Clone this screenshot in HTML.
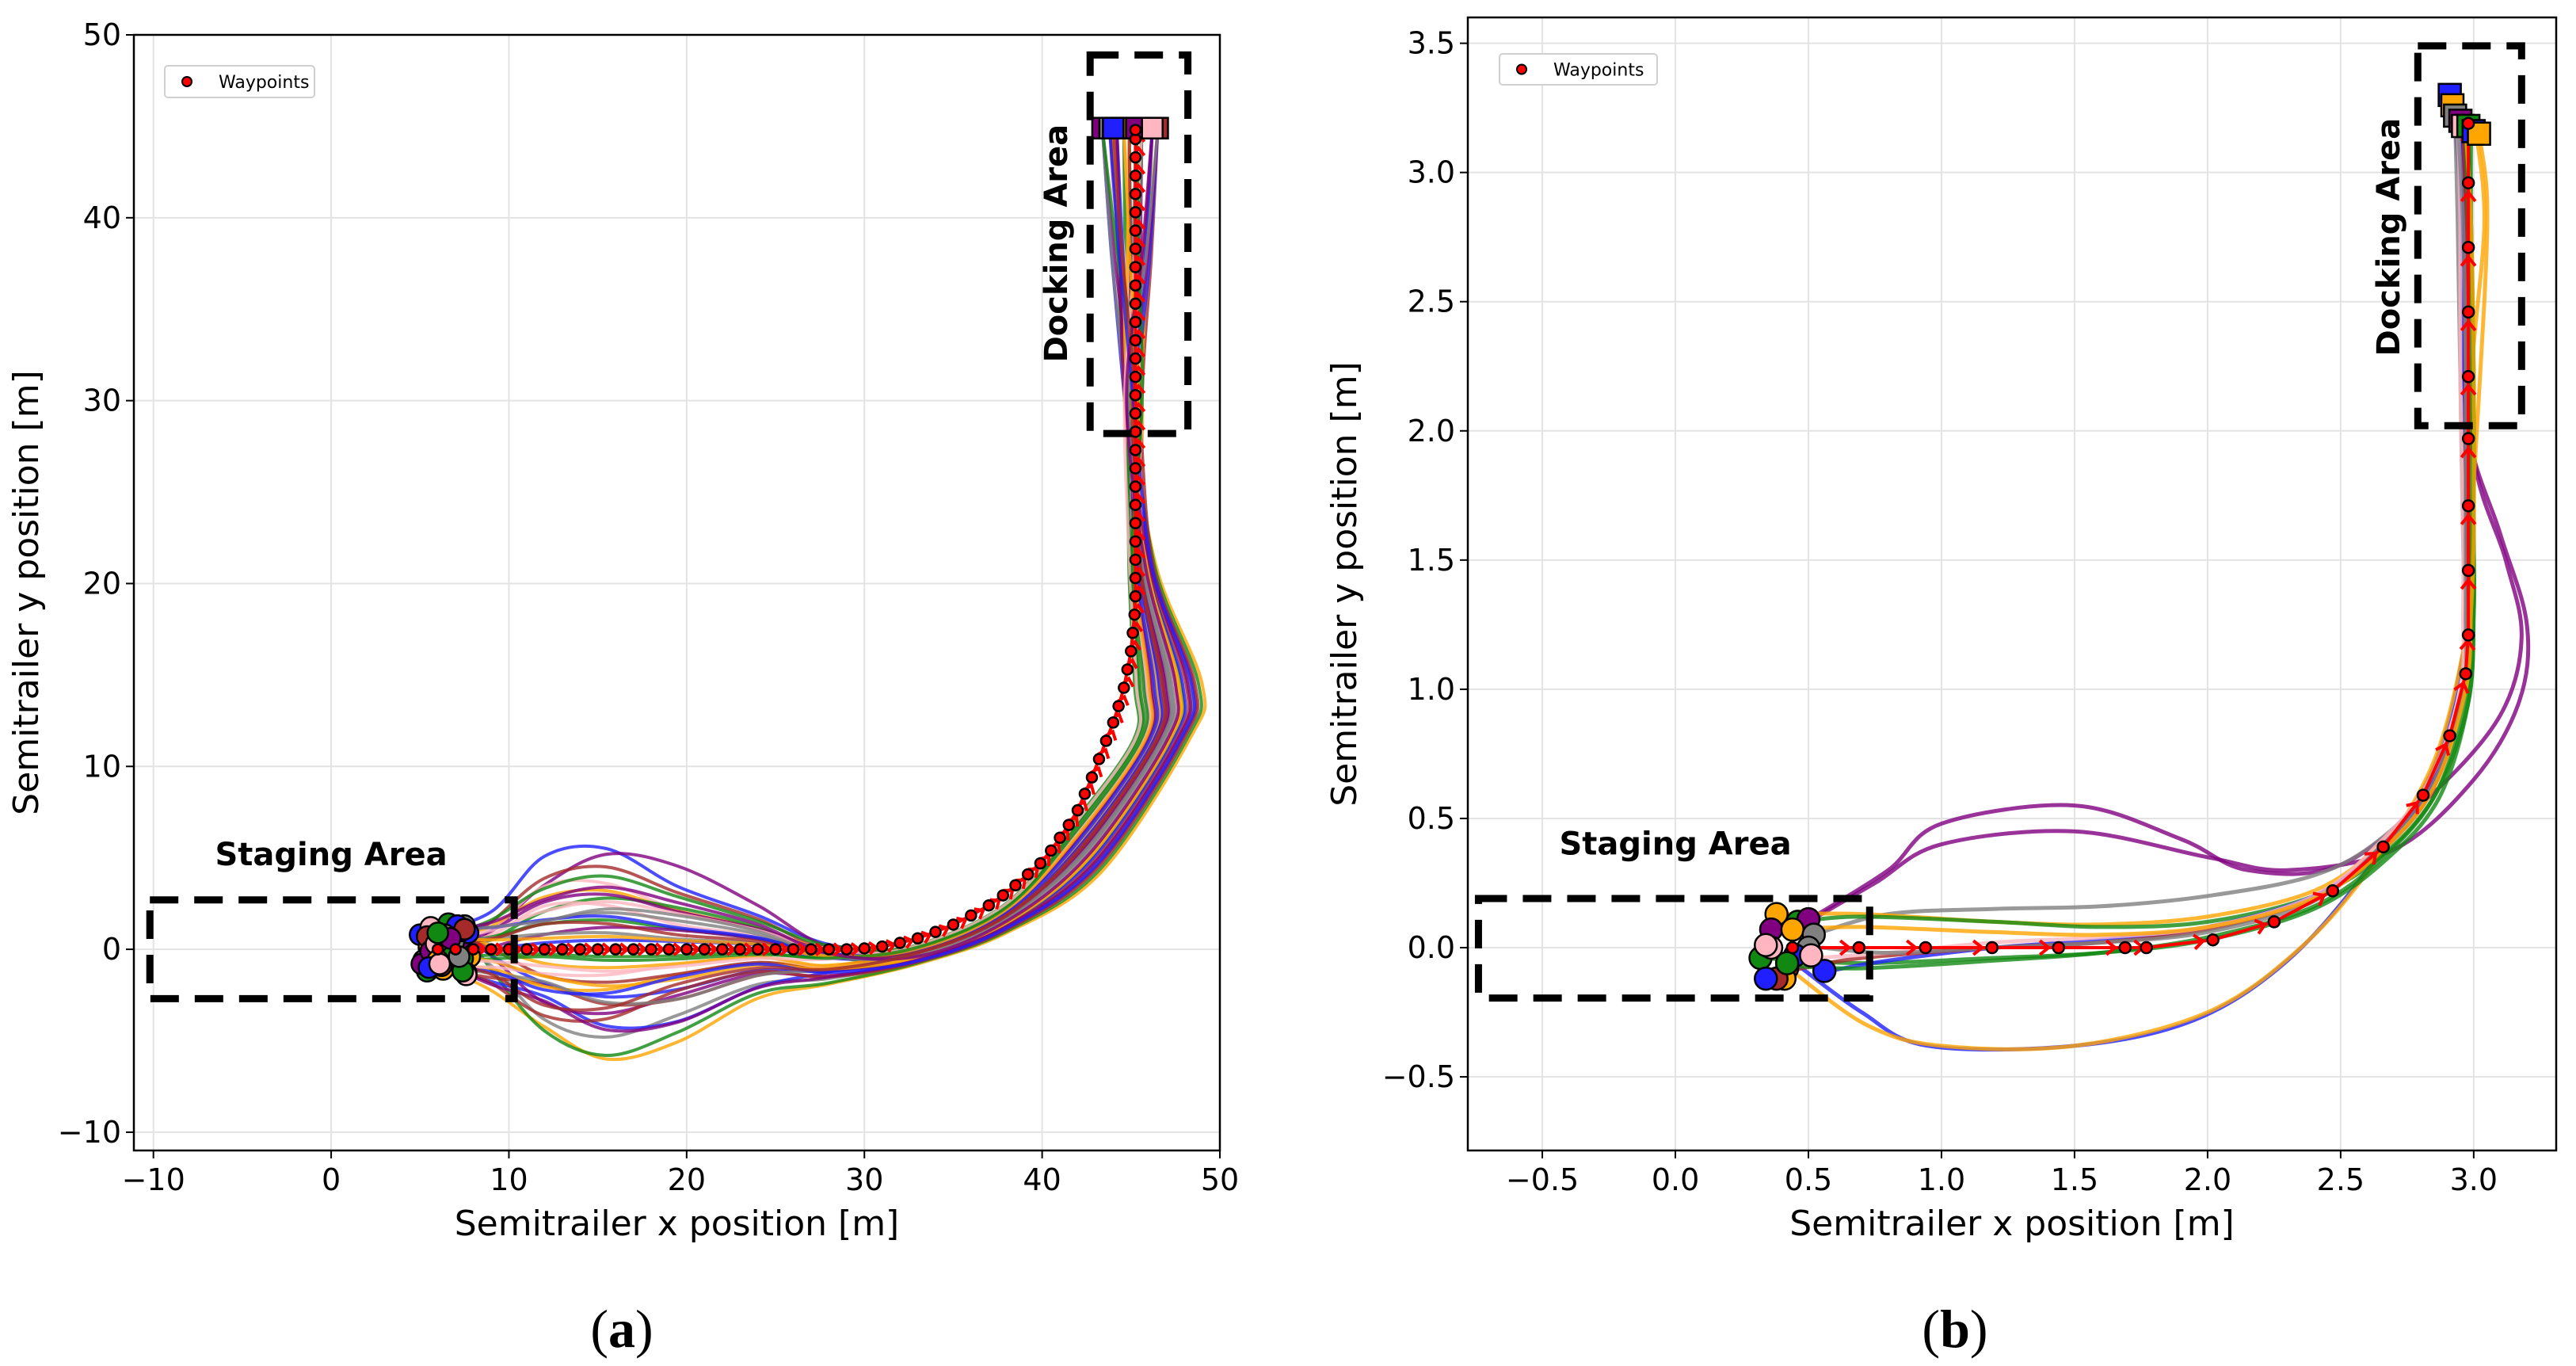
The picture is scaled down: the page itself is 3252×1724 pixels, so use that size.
<!DOCTYPE html>
<html><head><meta charset="utf-8">
<style>
html,body{margin:0;padding:0;background:#fff;}
svg{display:block;font-family:"DejaVu Sans","Liberation Sans",sans-serif;}
</style></head>
<body>
<svg id="fig" width="3252" height="1724" viewBox="0 0 3252 1724" xmlns="http://www.w3.org/2000/svg">
<rect width="3252" height="1724" fill="#fff"/>
<g id="pa"></g>
<g id="pb"></g>
<text x="785" y="1700" font-family="Liberation Serif, serif" font-size="68" text-anchor="middle">(<tspan font-weight="bold">a</tspan>)</text>
<text x="2468" y="1700" font-family="Liberation Serif, serif" font-size="68" text-anchor="middle">(<tspan font-weight="bold">b</tspan>)</text>
</svg>
<script>
// ---------- data: panel (a) ----------
const aXTicks = [-10,0,10,20,30,40,50];
const aYTicks = [-10,0,10,20,30,40,50];
const aPeakY = [5.5,-6,-5.8,5.2,4.5,3.6,-4.8,-4.2,3.2,2.8,-3.5,-3,2.4,2,-2.6,-2.2,1.6,1.2,-1.8,-1.4,0.9,0.5,-1,-0.6,3,-3.8,2.6,-2.9,1.8,-2,4,-4.4,1.4,-1.2,2.2,-2.4,0.7,-0.4,3.4,-3.2];
const aOutX = [46.5,49,48.8,47,47.5,48,48.3,46.8,46,47.8,48.5,46.2,45.6,47.2,47.9,46.4,45.4,46.9,48.1,47.4,45.8,46.6,47.6,45.2,46.1,48.6,45.9,47.1,46.3,47.7,45.5,48.2,46.7,45.3,47.3,48.4,46,45.7,47.5,46.8];
const aStartY = [0.8,-0.9,1.3,-1.2,0.3,-0.4,1.1,-1,0.6,-0.6,1.4,-1.3,0.1,-0.2,0.9,-0.8,0.4,-0.5,1.2,-1.1,0.7,-0.3,1,-0.7,0.2,-1.4,0.5,-0.9,1.3,-0.1,0.8,-1.2,0.3,-0.6,1.1,-1,0.6,-0.4,0.9,-0.8];
const aPeakX = [13,16.5,15.5,17,14,12.5,15,18,13.5,16,14.5,17.5,12,15.5,16.5,13,14,17,15,12.5];
const aStartX = [5.2,6.1,7.3,5.6,6.8,7.6,5.9,6.4,7.1,5.4,6.6,7.4,5.7,6.2,7.5,5.3,6.9,7.2,5.8,6.3];
const aEndX = [43.4,44.2,44.9,45.6,46.5,43.8,44.6,45.3,46.2,44.0];
const aMidX = [43.8,44.5,45.2,46.0,46.6,44.1,45.5,44.8,46.3,43.9,45.0];
const aWpX = [6,7,8,9,10,11,12,13,14,15,16,17,18,19,20,21,22,23,24,25,26,27,28,29,30,31,32,33,34,35,36,37,37.8,38.5,39.2,39.9,40.5,41,41.5,42,42.4,42.8,43.2,43.6,44,44.3,44.6,44.8,45,45.1,45.2,45.25,45.25,45.25,45.25,45.25,45.25,45.25,45.25,45.25,45.25,45.25,45.25,45.25,45.25,45.25,45.25,45.25,45.25,45.25,45.25,45.25,45.25,45.25,45.25,45.25,45.25,45.25];
const aWpY = [0,0,0,0,0,0,0,0,0,0,0,0,0,0,0,0,0,0,0,0,0,0,0,0,0.05,0.15,0.35,0.6,0.95,1.35,1.85,2.4,2.95,3.5,4.1,4.7,5.4,6.1,6.8,7.6,8.5,9.4,10.4,11.4,12.4,13.3,14.3,15.3,16.3,17.3,18.3,19.3,20.3,21.3,22.3,23.3,24.3,25.3,26.3,27.3,28.3,29.3,30.3,31.3,32.3,33.3,34.3,35.3,36.3,37.3,38.3,39.3,40.3,41.3,42.3,43.3,44.3,44.8];
// ---------- data: panel (b) ----------
const bXTicks = [-0.5,0,0.5,1,1.5,2,2.5,3];
const bYTicks = [-0.5,0,0.5,1,1.5,2,2.5,3,3.5];
const bTrajNames = ['purple-1','purple-2','blue-low','orange-low','gray','orange-1','green-1','green-2','blue-1','brown-1','pink-1','gray-2','green-3','orange-2'];
const bTrajColors = ['purple','purple','blue','orange','gray','orange','green','green','blue','brown','pink','gray','green','orange'];
const bTrajX = [
 [0.52,0.8,1.0,1.5,1.9,2.15,2.5,2.85,3.1,3.18,3.12,3.0,2.97,2.97],
 [0.5,0.75,1.0,1.5,2.0,2.3,2.7,3.0,3.17,3.2,3.1,2.98,2.96,2.96],
 [0.45,0.7,0.95,1.5,1.95,2.3,2.6,2.85,2.97,2.98,2.97,2.96,2.95,2.92],
 [0.45,0.72,1.0,1.5,2.0,2.35,2.62,2.85,2.97,2.99,3.0,3.04,3.05,3.02],
 [0.52,0.8,1.2,1.6,2.0,2.4,2.65,2.85,2.96,2.97,2.96,2.95,2.94,2.93],
 [0.4,0.7,1.2,1.6,2.0,2.4,2.65,2.85,2.96,2.98,2.98,2.99,3.04,3.01],
 [0.46,0.7,1.2,1.6,2.0,2.4,2.66,2.86,2.98,3.0,3.0,3.0,2.99,2.99],
 [0.32,0.7,1.2,1.6,2.0,2.4,2.67,2.87,2.98,3.0,3.0,3.0,2.99,2.98],
 [0.58,0.8,1.2,1.6,2.0,2.4,2.64,2.84,2.96,2.98,2.97,2.97,2.96,2.95],
 [0.43,0.7,1.2,1.6,2.0,2.4,2.65,2.85,2.96,2.98,2.97,2.97,2.97,2.96],
 [0.53,0.8,1.2,1.6,2.0,2.4,2.64,2.83,2.95,2.96,2.96,2.95,2.95,2.94],
 [0.55,0.8,1.2,1.6,2.0,2.4,2.64,2.84,2.96,2.97,2.97,2.97,2.96,2.94],
 [0.43,0.7,1.2,1.6,2.0,2.4,2.66,2.86,2.97,2.99,2.99,2.99,2.98,2.97],
 [0.44,0.7,1.2,1.6,2.0,2.4,2.65,2.85,2.97,2.99,3.0,3.0,2.99,2.97]];
const bTrajY = [
 [0.12,0.3,0.48,0.55,0.42,0.3,0.32,0.6,0.9,1.2,1.5,1.9,2.6,3.18],
 [0.1,0.25,0.4,0.45,0.35,0.3,0.38,0.65,0.95,1.25,1.6,2.0,2.6,3.18],
 [-0.06,-0.25,-0.38,-0.38,-0.28,-0.05,0.3,0.7,1.2,1.5,1.8,2.3,2.9,3.28],
 [-0.1,-0.3,-0.38,-0.38,-0.25,0.0,0.32,0.72,1.2,1.5,1.8,2.5,2.9,3.15],
 [0.05,0.13,0.15,0.16,0.2,0.28,0.42,0.65,1.0,1.3,1.6,2.2,2.8,3.22],
 [0.13,0.13,0.1,0.09,0.12,0.22,0.4,0.65,1.0,1.3,1.6,2.2,2.8,3.15],
 [0.1,0.12,0.1,0.08,0.1,0.2,0.36,0.6,0.95,1.3,1.6,2.2,2.8,3.18],
 [-0.04,-0.06,-0.04,-0.02,0.03,0.15,0.34,0.58,0.95,1.3,1.6,2.2,2.8,3.18],
 [-0.09,-0.05,0.0,0.03,0.08,0.2,0.38,0.63,1.0,1.3,1.6,2.2,2.8,3.2],
 [-0.09,-0.04,0.0,0.02,0.07,0.19,0.37,0.62,1.0,1.3,1.6,2.2,2.8,3.19],
 [-0.04,-0.02,0.02,0.04,0.08,0.2,0.4,0.64,1.0,1.3,1.6,2.2,2.8,3.2],
 [0.0,-0.02,0.0,0.02,0.06,0.18,0.38,0.62,1.0,1.3,1.6,2.2,2.8,3.2],
 [-0.07,-0.08,-0.05,-0.02,0.04,0.16,0.35,0.6,0.97,1.3,1.6,2.2,2.8,3.18],
 [0.07,0.08,0.06,0.05,0.08,0.19,0.37,0.62,1.0,1.3,1.6,2.2,2.8,3.17]];
const bStartX = [0.38,0.46,0.5,0.36,0.44,0.52,0.32,0.42,0.36,0.5,0.45,0.56,0.41,0.38,0.34,0.34,0.42,0.51];
const bStartY = [0.13,0.1,0.11,0.07,0.07,0.05,-0.04,-0.08,0.0,0.0,-0.03,-0.09,-0.12,-0.12,-0.12,0.01,-0.06,-0.03];
const bStartC = ['orange','green','purple','purple','orange','gray','green','brown','pink','gray','blue','blue','orange','brown','blue','pink','green','pink'];
const bEndX = [2.91,2.92,2.93,2.95,2.96,2.98,3.0,3.02];
const bEndY = [3.3,3.26,3.22,3.2,3.18,3.18,3.16,3.15];
const bEndC = ['blue','orange','gray','purple','pink','green','blue','orange'];
const bWpX = [0.44,0.69,0.94,1.19,1.44,1.69,1.77,2.02,2.25,2.47,2.66,2.81,2.91,2.97,2.98,2.98,2.98,2.98,2.98,2.98,2.98,2.98,2.98];
const bWpY = [0,0,0,0,0,0,0,0.03,0.1,0.22,0.39,0.59,0.82,1.06,1.21,1.46,1.71,1.97,2.21,2.46,2.71,2.96,3.19];

const COLORS = {blue:'#1f1fff',orange:'#ffa500',green:'#118811',purple:'#800080',brown:'#a52a2a',pink:'#ffb6c1',gray:'#808080'};
const CYC = ['blue','orange','green','purple','brown','pink','gray'];
const NS='http://www.w3.org/2000/svg';
function mk(tag,attrs,parent){const e=document.createElementNS(NS,tag);for(const k in attrs)e.setAttribute(k,attrs[k]);parent.appendChild(e);return e;}
function smooth(pts){
  let d='M'+pts[0][0].toFixed(1)+','+pts[0][1].toFixed(1);
  for(let i=0;i<pts.length-1;i++){const p0=pts[Math.max(0,i-1)],p1=pts[i],p2=pts[i+1],p3=pts[Math.min(pts.length-1,i+2)];
    const c1=[p1[0]+(p2[0]-p0[0])/6,p1[1]+(p2[1]-p0[1])/6],c2=[p2[0]-(p3[0]-p1[0])/6,p2[1]-(p3[1]-p1[1])/6];
    d+=' C'+c1.map(v=>v.toFixed(1)).join(',')+' '+c2.map(v=>v.toFixed(1)).join(',')+' '+p2[0].toFixed(1)+','+p2[1].toFixed(1);}
  return d;}

function axes(g,cfg){
  const {L,R,T,B,x0,x1,y0,y1}=cfg;
  const sx=v=>L+(v-x0)/(x1-x0)*(R-L), sy=v=>B-(v-y0)/(y1-y0)*(B-T);
  const grid=mk('g',{},g);
  
  cfg.xt.forEach(t=>{mk('line',{x1:sx(t),x2:sx(t),y1:T,y2:B,stroke:'#e3e3e3','stroke-width':2},grid);});
  cfg.yt.forEach(t=>{mk('line',{x1:L,x2:R,y1:sy(t),y2:sy(t),stroke:'#e3e3e3','stroke-width':2},grid);});
  const xa=mk('g',{},g);
  cfg.xt.forEach(t=>{mk('line',{x1:sx(t),x2:sx(t),y1:B,y2:B+10,stroke:'#000','stroke-width':2},xa);
    const tx=mk('text',{x:sx(t),y:B+50,'font-size':38,'text-anchor':'middle'},xa);tx.textContent=cfg.fmt(t);
    });
  const ya=mk('g',{},g);
  cfg.yt.forEach(t=>{mk('line',{x1:L-10,x2:L,y1:sy(t),y2:sy(t),stroke:'#000','stroke-width':2},ya);
    const tx=mk('text',{x:L-16,y:sy(t)+13,'font-size':38,'text-anchor':'end'},ya);tx.textContent=cfg.fmt(t);
    });
  const xl=mk('text',{x:(L+R)/2,y:1559,'font-size':44,'text-anchor':'middle'},g);xl.textContent='Semitrailer x position [m]';
  
  const yc=cfg.ylx, ym=(T+B)/2;
  const yl=mk('text',{x:yc,y:ym,'font-size':44,'text-anchor':'middle',transform:`rotate(-90 ${yc} ${ym})`},g);yl.textContent='Semitrailer y position [m]';
  
  return {sx,sy};
}
function frame(g,cfg){const f=mk('rect',{x:cfg.L,y:cfg.T,width:cfg.R-cfg.L,height:cfg.B-cfg.T,fill:'none',stroke:'#000','stroke-width':2.5},g);
  }
function dashRect(g,sx,sy,xa,xb,ya,yb,name){const r=mk('rect',{x:sx(xa),y:sy(yb),width:sx(xb)-sx(xa),height:sy(ya)-sy(yb),fill:'none',stroke:'#000','stroke-width':9,'stroke-dasharray':'36,20'},g);
  }
function label(g,x,y,txt,rot,name){const t=mk('text',{x,y,'font-size':40,'font-weight':'bold','text-anchor':'middle',transform:rot?`rotate(-90 ${x} ${y})`:''},g);t.textContent=txt;
  }
function legend(g,x,y,w,h){const lg=mk('g',{},g);
  mk('rect',{x,y,width:w,height:h,rx:4,fill:'#fff',stroke:'#d0d0d0','stroke-width':2},lg);
  mk('circle',{cx:x+28,cy:y+h/2,r:6,fill:'red',stroke:'#000','stroke-width':2},lg);
  const t=mk('text',{x:x+68,y:y+h/2+8,'font-size':22},lg);t.textContent='Waypoints';
  }
function chevron(g,px,py,ang,sz){const a=ang, c=Math.cos(a), s=Math.sin(a);
  const p1=[px-sz*c+sz*0.8*s, py-sz*s-sz*0.8*c], p2=[px-sz*c-sz*0.8*s, py-sz*s+sz*0.8*c];
  mk('polyline',{points:`${p1[0]},${p1[1]} ${px},${py} ${p2[0]},${p2[1]}`,fill:'none',stroke:'red','stroke-width':4},g);}

// ---------- panel a ----------
(function(){
  const g=document.getElementById('pa');
  const cfg={L:169,R:1540,T:44,B:1452,x0:-11.1,x1:50,y0:-11,y1:50,xt:aXTicks,yt:aYTicks,fmt:v=>String(v).replace('-','\u2212'),ylx:48};
  const {sx,sy}=axes(g,cfg);
  const tr=mk('g',{},g);
  aPeakY.forEach((p,i)=>{
    const s=(aOutX[i]-45)/4, y0=aStartY[i], sX=aStartX[i%aStartX.length], ex=aEndX[i%aEndX.length];
    const d=(15-aPeakX[i%aPeakX.length])/16, mx=45.1+(aMidX[i%aMidX.length]-45.1)*0.35;
    const pts=[[sX,y0],[9,y0*0.5+p*0.3],[12,p*(0.8+d)],[15.5,p],[19.5,p*(0.75-d)],[24,p*(0.4-d*0.5)],[28,-0.3-s*0.7+p*0.15],[33,0.3-s*1.1],[38,2.6-s*1.7],[41.5+s*1.8,6.8-s*2.6],[aOutX[i]-0.7*s,11.5],[aOutX[i],14.5],[44.8+s*1.6,21],[mx,30],[mx*0.4+ex*0.6,38],[ex,44.8]].map(q=>[sx(q[0]),sy(q[1])]);
    const path=mk('path',{d:smooth(pts),fill:'none',stroke:COLORS[CYC[i%7]],'stroke-width':4,'stroke-opacity':0.8},tr);
    
    
  });
  const wl=mk('g',{},g);
  mk('polyline',{points:aWpX.map((x,i)=>sx(x)+','+sy(aWpY[i])).join(' '),fill:'none',stroke:'red','stroke-width':4},wl);
  for(let i=1;i<aWpX.length;i++){const x1=sx(aWpX[i-1]),y1=sy(aWpY[i-1]),x2=sx(aWpX[i]),y2=sy(aWpY[i]);
    chevron(wl,(x1+x2)/2+4,(y1+y2)/2,Math.atan2(y2-y1,x2-x1),9);}
  aStartX.concat(aStartX).forEach((x,i)=>{const c=mk('circle',{cx:sx(x-0.2+(i%3)*0.2),cy:sy(aStartY[i]),r:13,fill:COLORS[CYC[(i*3)%7]],stroke:'#000','stroke-width':2.5},g);
    });
  aEndX.forEach((x,i)=>{const r=mk('rect',{x:sx(x)-13,y:sy(44.9)-13,width:26,height:26,fill:COLORS[CYC[(i*2+3)%7]],stroke:'#000','stroke-width':2.5},g);
    });
  aWpX.forEach((x,i)=>{const c=mk('circle',{cx:sx(x),cy:sy(aWpY[i]),r:6.5,fill:'red',stroke:'#000','stroke-width':2.5},g);
    });
  dashRect(g,sx,sy,-10.2,10.3,-2.7,2.7,'staging-area-box');
  dashRect(g,sx,sy,42.7,48.2,28.2,48.9,'docking-area-box');
  label(g,sx(0),sy(4.6),'Staging Area',false,'staging-area-label');
  label(g,sx(41.4),sy(38.6),'Docking Area',true,'docking-area-label');
  legend(g,208,83,189,40);
  frame(g,cfg);
})();

// ---------- panel b ----------
(function(){
  const g=document.getElementById('pb');
  const cfg={L:1853,R:3227,T:22,B:1452,x0:-0.78,x1:3.31,y0:-0.785,y1:3.6,xt:bXTicks,yt:bYTicks,fmt:v=>v.toFixed(1).replace('-','\u2212'),ylx:1712};
  const {sx,sy}=axes(g,cfg);
  const tr=mk('g',{},g);
  bTrajX.forEach((xs,i)=>{
    const pts=xs.map((x,j)=>[sx(x),sy(bTrajY[i][j])]);
    const path=mk('path',{d:smooth(pts),fill:'none',stroke:COLORS[bTrajColors[i]],'stroke-width':5,'stroke-opacity':0.8},tr);
    
    
  });
  const wl=mk('g',{},g);
  mk('polyline',{points:bWpX.map((x,i)=>sx(x)+','+sy(bWpY[i])).join(' '),fill:'none',stroke:'red','stroke-width':4},wl);
  for(let i=1;i<bWpX.length;i++){const x1=sx(bWpX[i-1]),y1=sy(bWpY[i-1]),x2=sx(bWpX[i]),y2=sy(bWpY[i]);
    chevron(wl,x1+(x2-x1)*0.85,y1+(y2-y1)*0.85,Math.atan2(y2-y1,x2-x1),11);}
  bStartX.forEach((x,i)=>{const c=mk('circle',{cx:sx(x),cy:sy(bStartY[i]),r:14,fill:COLORS[bStartC[i]],stroke:'#000','stroke-width':2.5},g);
    });
  bEndX.forEach((x,i)=>{const r=mk('rect',{x:sx(x)-14,y:sy(bEndY[i])-14,width:28,height:28,fill:COLORS[bEndC[i]],stroke:'#000','stroke-width':2.5},g);
    });
  bWpX.forEach((x,i)=>{const c=mk('circle',{cx:sx(x),cy:sy(bWpY[i]),r:7,fill:'red',stroke:'#000','stroke-width':2.5},g);
    });
  dashRect(g,sx,sy,-0.74,0.73,-0.195,0.19,'staging-area-box');
  dashRect(g,sx,sy,2.79,3.18,2.02,3.49,'docking-area-box');
  label(g,sx(0.0),sy(0.36),'Staging Area',false,'staging-area-label');
  label(g,sx(2.72),sy(2.75),'Docking Area',true,'docking-area-label');
  legend(g,1893,68,199,39);
  frame(g,cfg);
})();
</script>
</body></html>
